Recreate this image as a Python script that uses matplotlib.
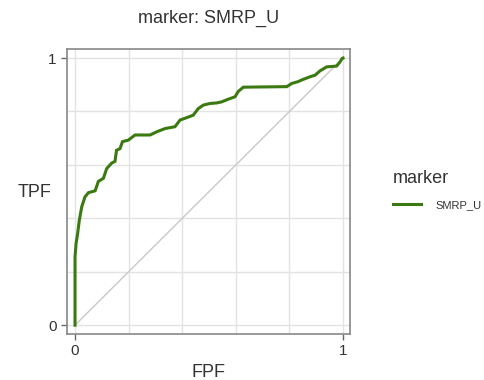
import matplotlib
matplotlib.use('Agg')
from matplotlib import pyplot as plt

# ROC curve points (FPF, TPF)
fpf = [0.0, 0.0, 0.004, 0.01, 0.016, 0.025, 0.037, 0.05, 0.075, 0.087, 0.106,
       0.118, 0.137, 0.149, 0.155, 0.168, 0.177, 0.199, 0.224, 0.28, 0.305,
       0.336, 0.373, 0.392, 0.417, 0.441, 0.46, 0.479, 0.504, 0.529, 0.547,
       0.572, 0.597, 0.609, 0.628, 0.79, 0.809, 0.833, 0.846, 0.877, 0.896,
       0.914, 0.939, 0.976, 0.989, 0.997, 1.0]
tpf = [0.0, 0.256, 0.307, 0.345, 0.393, 0.443, 0.48, 0.496, 0.503, 0.538, 0.55,
       0.586, 0.607, 0.613, 0.655, 0.661, 0.687, 0.693, 0.712, 0.712, 0.724,
       0.736, 0.743, 0.768, 0.777, 0.786, 0.811, 0.824, 0.83, 0.832, 0.836,
       0.846, 0.855, 0.875, 0.891, 0.893, 0.905, 0.912, 0.918, 0.93, 0.936,
       0.952, 0.967, 0.97, 0.986, 0.999, 1.0]
marker_name = 'SMRP_U'

plt.rcParams['font.family'] = ['Liberation Sans', 'DejaVu Sans']
txt = '#333333'

fig = plt.figure(figsize=(4.84, 3.80), dpi=100)
ax = fig.add_axes([0.1384, 0.1211, 0.5847, 0.75])

# grid every 0.2
for g in [0, 0.2, 0.4, 0.6, 0.8, 1.0]:
    ax.axvline(g, color='#e3e3e3', lw=1, zorder=0)
    ax.axhline(g, color='#e3e3e3', lw=1, zorder=0)

ax.plot([0, 1], [0, 1], color='#c9c9c9', lw=1, zorder=1)
ax.plot(fpf, tpf, color='#3a7a10', lw=2.2, label=marker_name, zorder=2,
        solid_joinstyle='miter')

ax.set_xlim(-0.03, 1.026)
ax.set_ylim(-0.033, 1.034)
ax.set_xticks([0, 1])
ax.set_yticks([0, 1])
ax.set_xticklabels(['0', '1'])
ax.set_yticklabels(['0', '1'])
ax.tick_params(colors='#666666', labelcolor=txt, labelsize=11, length=4, width=1)
for s in ax.spines.values():
    s.set_color('#888888')
    s.set_linewidth(1.2)

ax.set_title('marker: ' + marker_name, fontsize=13, color=txt, pad=19)
ax.set_xlabel('FPF', fontsize=13, color=txt)
ax.xaxis.set_label_coords(0.5, -0.105)
ax.set_ylabel('TPF', fontsize=13, color=txt, rotation=0, va='center', ha='center')
ax.yaxis.set_label_coords(-0.113, 0.495)

leg = fig.legend(loc='center left', bbox_to_anchor=(0.795, 0.5), frameon=False,
                 title='marker', fontsize=8, title_fontsize=13,
                 handlelength=2.6, handletextpad=1.3, labelcolor=txt,
                 borderaxespad=0.3, alignment='left')
leg.get_title().set_color(txt)
leg._legend_box.sep = 9

fig.savefig('out.png', dpi=100)
